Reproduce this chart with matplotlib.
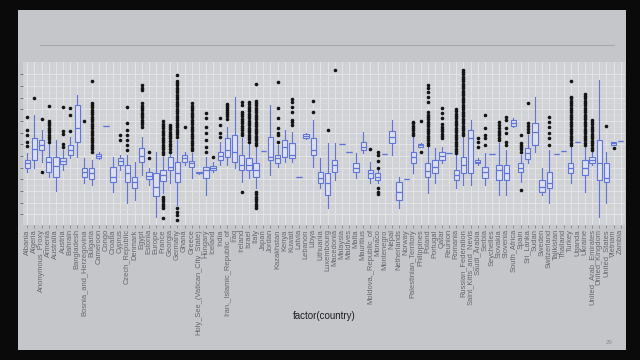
import matplotlib
matplotlib.use('Agg')
import matplotlib.pyplot as plt
from matplotlib.patches import Rectangle
from matplotlib.lines import Line2D

countries = [
    "Albania", "Algeria", "Anonymous_Proxy", "Armenia", "Australia", "Austria",
    "Bahrain", "Bangladesh", "Bosnia_and_Herzegovina", "Bulgaria", "Cameroon",
    "Congo", "Croatia", "Cyprus", "Czech_Republic", "Denmark", "Egypt", "Estonia",
    "Europe", "France", "Georgia", "Germany", "Ghana", "Greece",
    "Holy_See_(Vatican_City_State)", "Hungary", "Iceland", "India",
    "Iran,_Islamic_Republic_of", "Iraq", "Ireland", "Israel", "Italy", "Japan",
    "Jordan", "Kazakhstan", "Kenya", "Kuwait", "Latvia", "Lebanon", "Libya",
    "Lithuania", "Luxembourg", "Macedonia", "Malaysia", "Maldives", "Malta",
    "Mauritius", "Moldova,_Republic_of", "Monaco", "Montenegro", "Nepal",
    "Netherlands", "Norway", "Palestinian_Territory", "Philippines", "Poland",
    "Portugal", "Qatar", "Reunion", "Romania", "Russian_Federation",
    "Saint_Kitts_and_Nevis", "Saudi_Arabia", "Serbia", "Seychelles", "Slovakia",
    "Slovenia", "South_Africa", "Spain", "Sri_Lanka", "Sudan", "Sweden",
    "Switzerland", "Tajikistan", "Thailand", "Turkey", "Uganda", "Ukraine",
    "United_Arab_Emirates", "United_Kingdom", "United_States", "Vietnam", "Zambia",
]

whislo = [13, 14, 16, 11.5, 7.2, 13.5, 17, 17.5, 9.5, 9, 16.8, 26.8, 7, 13.5, 3.5, 4.5,
          12, 9, -0.5, 6.5, 9.5, 3, 15, 11, 12.4, 6, 13, 15, 15, 14, 10, 11, 8, 19.3,
          12, 14.5, 16, 16, 11.4, 22.8, 14.5, 8, 2, 10.5, 21.2, 19, 11, 18.5, 9.5, 9.5,
          18.2, 18, 2, 10.8, 12.5, 20.3, 6.5, 9.5, 15.5, 18.7, 8, 9, 9, 15, 9, 18.3,
          6, 6, 26.5, 10, 15.5, 19, 6, 3.5, 18.4, 19.2, 9.5, 22, 7, 15, -0.5, 3.5, 21, 22.2]
q1 = [14.2, 16.5, 19.5, 13, 11.5, 15.2, 18, 21.8, 11.5, 10.8, 17.2, 26.8, 10, 15, 9.8, 8.2,
      15.8, 10.8, 5.8, 10.2, 13.5, 10, 16, 14.5, 12.5, 11, 13.5, 16.5, 17.5, 16, 13.5, 13.5,
      11.5, 19.3, 16.5, 15.5, 17.5, 17, 11.4, 23, 18, 9.5, 6, 13, 21.2, 19, 13, 19.5, 11,
      10.5, 18.2, 21.5, 4.5, 10.8, 15.5, 20.5, 11.5, 12.5, 16.5, 18.7, 10.5, 12.5, 12.5,
      15.5, 11.2, 18.3, 10.5, 10.5, 26.8, 13, 16.8, 21, 7, 8, 18.4, 19.2, 12.5, 22, 12,
      15.5, 10.5, 10, 21.1, 22.2]
med = [15.5, 19.8, 21, 16, 14.7, 16.2, 19.5, 26, 13, 12.5, 17.8, 26.8, 11.5, 16.2, 12.5, 10,
       17.8, 11.8, 8.5, 12, 14.5, 12.5, 17, 15.5, 12.7, 13.5, 14, 17.8, 19.5, 19, 15, 15,
       13.5, 19.3, 17.5, 17, 20.5, 18, 11.4, 23.6, 19.5, 11, 9.5, 15, 21.2, 19, 14.2, 20.5,
       12.5, 11.5, 18.2, 23.5, 7, 10.8, 17.5, 20.9, 13.2, 14.5, 17.6, 18.7, 12, 15, 23, 16,
       13, 18.3, 13.5, 12.5, 27.7, 14.2, 18.5, 25, 8.5, 9.5, 18.4, 19.2, 14, 22, 14, 16.5,
       15.5, 11.2, 21.5, 22.2]
q3 = [16.5, 23, 22.5, 17.5, 17.5, 17, 21, 33, 14, 14, 18.4, 26.8, 14.5, 17, 15, 11.5,
      20, 12.8, 12.5, 13.5, 17.5, 16, 18, 16.2, 12.9, 14.5, 14.7, 19, 23, 24, 18, 17,
      15.5, 19.3, 23.5, 18, 22.5, 21.5, 11.4, 24.2, 23, 13, 12.5, 16.5, 21.2, 19, 15.5, 22,
      13.5, 12.5, 18.2, 25.2, 10, 10.8, 19, 21.2, 15.5, 16.5, 18.8, 18.7, 13.5, 17.5, 25.5,
      16.5, 14.5, 18.3, 15, 15, 28.5, 15.5, 20, 27.5, 10.5, 13, 18.4, 19.2, 15.5, 22, 16.5,
      17.5, 22.5, 15.5, 21.8, 22.2]
whishi = [18.5, 30, 25.5, 21.5, 22.5, 19.5, 23.5, 36, 17, 16.5, 18.8, 26.8, 17.5, 18, 18, 16,
          23.5, 14, 19, 17.5, 18.3, 22.5, 19, 18.5, 13, 17.5, 16, 22, 26.5, 35.5, 23, 21.5,
          20.5, 19.3, 33, 21, 25.5, 25, 11.4, 24.5, 28.5, 17, 21.5, 21.5, 21.2, 19, 18.5, 24.8,
          16, 13.5, 18.2, 28.5, 11.5, 10.8, 23.5, 21.5, 20.5, 20, 20.5, 18.7, 18, 23.5, 28.5,
          17.2, 18.5, 18.3, 21.5, 19.5, 29, 18, 24, 35.5, 14, 19.5, 18.4, 19.2, 20.5, 22, 20.5,
          19, 40.5, 19, 22, 22.2]

outliers = [
    [20.8, 21.8, 24.0, 25.5, 29.5],                                   # Albania
    [35.0],                                                           # Algeria
    [12.8, 28.7],                                                     # Anonymous_Proxy
    [22.0, 22.7, 23.4, 24.1, 24.8, 25.5, 26.2, 26.9, 27.6, 28.3, 32.7],  # Armenia
    [],                                                               # Australia
    [20.5, 21.2, 24.2, 25.2, 32.5],                                   # Austria
    [25.2, 30.0, 32.2],                                               # Bahrain
    [],                                                               # Bangladesh
    [28.3],                                                           # Bosnia
    [19.0, 19.7, 20.4, 21.1, 21.8, 22.5, 23.2, 23.9, 24.6, 25.3, 26.0, 26.7,
     27.4, 28.1, 28.8, 29.5, 30.2, 30.9, 31.6, 32.3, 33.0, 33.6, 40.2],  # Bulgaria
    [], [], [],                                                       # Cameroon, Congo, Croatia
    [22.5, 24.0],                                                     # Cyprus
    [19.5, 21.0, 22.5, 24.0, 25.5, 27.5, 32.5],                       # Czech
    [],                                                               # Denmark
    [26.5, 27.2, 27.9, 28.6, 29.3, 30.0, 30.7, 31.4, 32.1, 32.8, 33.5,
     37.5, 38.2, 39.0],                                               # Egypt
    [17.0, 19.0],                                                     # Estonia
    [],                                                               # Europe
    [-1.0, 2.0, 2.7, 3.4, 4.1, 4.8, 5.4, 18.3, 19.0, 19.7, 20.4, 21.1, 21.8,
     22.5, 23.2, 23.9, 24.6, 25.3, 26.0, 26.7, 27.4, 28.1],           # France
    [19.0, 19.8, 20.6, 21.4, 22.2, 23.0, 23.6, 24.3, 25.0, 25.7, 26.4, 27.0],  # Georgia
    [-1.5, 0.0, 1.0, 2.0, 23.5, 24.2, 24.9, 25.6, 26.3, 27.0, 27.7, 28.4, 29.1,
     29.8, 30.5, 31.2, 31.9, 32.6, 33.3, 34.0, 34.7, 35.4, 36.1, 36.8, 37.5,
     38.2, 38.9, 39.6, 40.3, 42.0],                                   # Germany
    [26.5],                                                           # Ghana
    [19.5, 20.2, 20.9, 21.6, 22.3, 23.0, 23.7, 24.4, 25.1, 25.8, 26.5, 27.2,
     27.9, 28.6, 29.3, 30.0, 30.7, 31.4, 32.1, 32.8, 33.5],           # Greece
    [],                                                               # Holy See
    [19.0, 20.5, 22.5, 24.5, 26.5, 29.0, 30.5],                       # Hungary
    [17.5],                                                           # Iceland
    [23.5, 24.5, 27.0, 29.0],                                         # India
    [28.8, 29.6, 30.4, 31.0, 31.6, 32.2, 32.8, 33.3],                 # Iran
    [],                                                               # Iraq
    [6.8, 24.0, 24.7, 25.4, 26.1, 26.8, 27.5, 28.2, 28.9, 29.6, 30.3, 31.0,
     33.0, 34.0],                                                     # Ireland
    [22.0, 22.7, 23.4, 24.1, 24.8, 25.5, 26.2, 26.9, 27.6, 28.3, 29.0, 29.7,
     30.4, 31.1, 31.8, 32.5, 33.2, 33.9],                             # Israel
    [2.0, 2.7, 3.4, 4.1, 4.8, 5.5, 6.2, 6.8, 21.0, 21.7, 22.4, 23.1, 23.8,
     24.5, 25.2, 25.9, 26.6, 27.3, 28.0, 28.7, 29.4, 30.1, 30.8, 31.5, 32.2,
     32.9, 33.6, 34.3, 39.2],                                         # Italy
    [], [],                                                           # Japan, Jordan
    [21.8, 24.0, 24.7, 26.2, 29.0, 32.2, 39.8],                       # Kazakhstan
    [],                                                               # Kenya
    [27.0, 28.0, 28.5, 31.0, 32.5, 34.0, 34.8],                       # Kuwait
    [], [],                                                           # Latvia, Lebanon
    [31.0, 34.2],                                                     # Libya
    [],                                                               # Lithuania
    [25.5],                                                           # Luxembourg
    [43.5],                                                           # Macedonia
    [], [], [], [],                                                   # Malaysia..Mauritius
    [19.7],                                                           # Moldova
    [6.3, 7.0, 8.0, 14.0, 16.2, 18.0, 19.0],                          # Monaco
    [], [], [], [],                                                   # Montenegro..Norway
    [24.0, 24.7, 25.4, 26.1, 26.8, 27.5, 28.0],                       # Palestinian
    [18.8, 28.2],                                                     # Philippines
    [21.0, 21.7, 22.4, 23.1, 23.8, 24.5, 25.2, 25.9, 26.6, 27.3, 28.0, 28.7,
     29.4, 30.1, 30.8, 34.0, 35.5, 37.0, 38.0, 39.0],                 # Poland
    [],                                                               # Portugal
    [23.0, 23.7, 24.4, 25.1, 25.8, 26.5, 27.2, 29.0, 30.5, 32.0],     # Qatar
    [],                                                               # Reunion
    [18.5, 19.2, 19.9, 20.6, 21.3, 22.0, 22.7, 23.4, 24.1, 24.8, 25.5, 26.2,
     26.9, 27.6, 28.3, 29.0, 29.7, 30.4, 31.1, 31.7],                 # Romania
    [24.0, 24.7, 25.4, 26.1, 26.8, 27.5, 28.2, 28.9, 29.6, 30.3, 31.0, 31.7,
     32.4, 33.1, 33.8, 34.5, 35.2, 35.9, 36.6, 37.3, 38.0, 38.7, 39.4, 40.1,
     40.8, 41.5, 42.2, 42.9, 43.4],                                   # Russian Federation
    [],                                                               # Saint Kitts
    [20.5, 22.0, 23.2],                                               # Saudi Arabia
    [21.0, 23.0, 24.0, 26.0, 30.0],                                   # Serbia
    [],                                                               # Seychelles
    [22.5, 23.2, 23.9, 24.6, 25.3, 26.0, 27.0, 28.0],                 # Slovakia
    [21.0, 22.0, 24.5, 26.0, 28.5, 29.5],                             # Slovenia
    [],                                                               # South Africa
    [7.5, 19.0, 19.7, 20.4, 21.1, 21.5, 24.0],                        # Spain
    [25.0, 25.8, 26.6, 27.5, 33.5],                                   # Sri Lanka
    [], [],                                                           # Sudan, Sweden
    [21.0, 23.0, 24.5, 26.5, 28.0, 29.5],                             # Switzerland
    [], [],                                                           # Tajikistan, Thailand
    [21.0, 21.7, 22.4, 23.1, 23.8, 24.5, 25.2, 25.9, 26.6, 27.3, 28.0, 28.7,
     29.4, 30.1, 30.8, 31.5, 32.2, 32.9, 33.6, 34.3, 35.0, 35.5, 40.2],  # Turkey
    [],                                                               # Uganda
    [21.0, 21.7, 22.4, 23.1, 23.8, 24.5, 25.2, 25.9, 26.6, 27.3, 28.0, 28.7,
     29.4, 30.1, 30.8, 31.5, 32.2, 32.9, 33.6, 34.3, 35.0, 35.7, 36.2],  # Ukraine
    [19.5, 20.2, 20.9, 21.6, 22.3, 23.0, 23.7, 24.4, 25.1, 25.8, 26.5, 27.2,
     27.9, 28.5],                                                     # UAE
    [],                                                               # United Kingdom
    [26.8],                                                           # United States
    [20.2],                                                           # Vietnam
    [],                                                               # Zambia
]

ytick_vals = [0.2, 3.7, 7.2, 10.7, 14.2, 17.7, 21.2, 24.7, 28.2, 31.7, 35.2, 38.7, 42.2]

W, H = 640, 360
fig = plt.figure(figsize=(6.4, 3.6), dpi=100, facecolor='#0a0a0a')

# slide background
fig.patches.append(Rectangle((18 / W, 10 / H), 608 / W, 340 / H,
                             transform=fig.transFigure, facecolor='#c4c6ca',
                             edgecolor='none', zorder=-10))
# title underline
fig.lines.append(Line2D([40 / W, 614 / W], [1 - 45 / H, 1 - 45 / H],
                        transform=fig.transFigure, color='#a6a8ad', lw=0.8,
                        zorder=-5))

ax = fig.add_axes([23 / W, 135 / H, 602 / W, 163 / H])
ax.set_zorder(5)
ax.set_facecolor('#d0d2d6')
for s in ax.spines.values():
    s.set_visible(False)

stats = []
for i in range(len(countries)):
    stats.append(dict(whislo=whislo[i], q1=q1[i], med=med[i], q3=q3[i],
                      whishi=whishi[i], fliers=outliers[i], label=countries[i]))

blue = '#6276d8'
ax.bxp(stats, positions=list(range(len(countries))), widths=0.75,
       patch_artist=True, showcaps=False,
       boxprops=dict(facecolor='#dde0ee', edgecolor=blue, linewidth=0.8),
       medianprops=dict(color=blue, linewidth=0.9),
       whiskerprops=dict(color=blue, linewidth=0.8),
       flierprops=dict(marker='o', markerfacecolor='#141414',
                       markeredgecolor='none', markersize=2.6))

ax.set_xlim(-0.6, len(countries) - 0.4)
ax.set_ylim(-3, 45.9)

ax.set_xticks(list(range(len(countries))))
ax.set_xticklabels(countries, rotation=90, fontsize=5.4, color='#66676c',
                   family='Liberation Sans')
ax.tick_params(axis='x', length=2, width=0.5, color='#7a7a7a', pad=1)

ax.set_yticks(ytick_vals)
minor = [(ytick_vals[k] + ytick_vals[k + 1]) / 2 for k in range(len(ytick_vals) - 1)]
ax.set_yticks(minor, minor=True)
ax.tick_params(axis='y', which='major', labelleft=False, length=2.5, width=0.5,
               color='#555555')
ax.tick_params(axis='y', which='minor', length=0)
ax.grid(True, which='major', color='#e3e4e7', lw=0.7)
ax.grid(True, which='minor', axis='y', color='#dadbde', lw=0.4)
ax.set_axisbelow(True)

fig.text(324.5 / W, 1 - 316 / H, 'factor(country)', ha='center', va='center',
         fontsize=7, color='#1e1e1e', family='Liberation Sans')
fig.text(609 / W, 1 - 343 / H, '29', ha='center', va='center',
         fontsize=4.5, color='#8a8a8a', family='Liberation Sans')

fig.savefig('out.png', dpi=100, facecolor=fig.get_facecolor())
